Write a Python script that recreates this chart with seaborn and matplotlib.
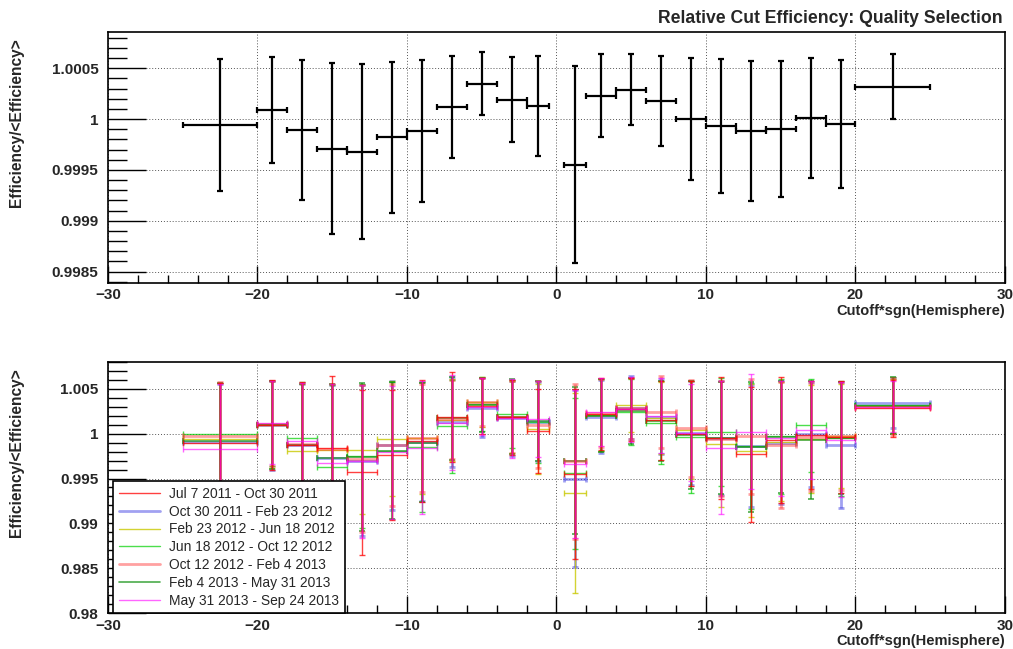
import numpy as np
import matplotlib
matplotlib.use("Agg")
import matplotlib.pyplot as plt
from matplotlib.ticker import MultipleLocator, FuncFormatter
from matplotlib.lines import Line2D
import seaborn as sns

# bins of cutoff*sgn(hemisphere)
bin_centers = [-22.5, -19, -17, -15, -13, -11, -9, -7, -5, -3, -1.25,
               1.25, 3, 5, 7, 9, 11, 13, 15, 17, 19, 22.5]
bin_halfwidths = [2.5, 1, 1, 1, 1, 1, 1, 1, 1, 1, 0.75,
                  0.75, 1, 1, 1, 1, 1, 1, 1, 1, 1, 2.5]

# top panel: all periods combined
top_val = [0.99994, 1.00009, 0.99989, 0.99971, 0.99968, 0.99982, 0.99988, 1.00012, 1.00035, 1.00019, 1.00013,
           0.99955, 1.00023, 1.00029, 1.00018, 1.00000, 0.99993, 0.99988, 0.99990, 1.00001, 0.99995, 1.00032]
top_err = [0.00065, 0.00052, 0.00069, 0.00084, 0.00086, 0.00074, 0.00070, 0.00050, 0.00031, 0.00042, 0.00049,
           0.00097, 0.00041, 0.00035, 0.00044, 0.00060, 0.00066, 0.00069, 0.00067, 0.00059, 0.00063, 0.00032]

# bottom panel: per period
periods = ["Jul 7 2011 - Oct 30 2011", "Oct 30 2011 - Feb 23 2012", "Feb 23 2012 - Jun 18 2012",
           "Jun 18 2012 - Oct 12 2012", "Oct 12 2012 - Feb 4 2013", "Feb 4 2013 - May 31 2013",
           "May 31 2013 - Sep 24 2013"]

val_jul7 = [0.9990, 1.0010, 0.9987, 0.9984, 0.9957, 0.9976, 0.9992, 1.0018, 1.0031, 1.0018, 1.0003,
            0.9955, 1.0022, 1.0027, 1.0015, 1.0000, 0.9995, 0.9977, 0.9993, 0.9998, 0.9996, 1.0028]
val_oct30 = [0.9991, 1.0009, 0.9987, 0.9973, 0.9970, 0.9987, 0.9991, 1.0013, 1.0029, 1.0017, 1.0013,
             0.9950, 1.0019, 1.0029, 1.0019, 1.0001, 0.9995, 0.9986, 0.9990, 0.9999, 0.9987, 1.0034]
val_feb23 = [0.9994, 1.0010, 0.9981, 0.9982, 0.9982, 0.9994, 0.9995, 1.0015, 1.0035, 1.0018, 1.0005,
             0.9934, 1.0021, 1.0032, 1.0017, 1.0004, 0.9988, 0.9981, 0.9991, 0.9994, 0.9997, 1.0031]
val_jun18 = [0.9999, 1.0011, 0.9995, 0.9963, 0.9975, 0.9981, 0.9985, 1.0008, 1.0033, 1.0022, 1.0013,
             0.9956, 1.0021, 1.0024, 1.0012, 0.9996, 1.0002, 0.9986, 0.9997, 1.0009, 0.9995, 1.0032]
val_oct12 = [0.9997, 1.0011, 0.9988, 0.9983, 0.9972, 0.9987, 0.9995, 1.0016, 1.0035, 1.0018, 1.0010,
             0.9969, 1.0023, 1.0028, 1.0024, 1.0006, 0.9994, 0.9997, 0.9987, 0.9996, 0.9997, 1.0030]
val_feb4 = [0.9992, 1.0010, 0.9987, 0.9973, 0.9974, 0.9981, 0.9990, 1.0017, 1.0032, 1.0019, 1.0014,
            0.9970, 1.0020, 1.0025, 1.0014, 0.9998, 0.9995, 0.9985, 0.9996, 0.9993, 0.9995, 1.0031]
val_may31 = [0.9983, 1.0012, 0.9992, 0.9967, 0.9969, 0.9979, 0.9984, 1.0012, 1.0030, 1.0017, 1.0016,
             0.9966, 1.0024, 1.0027, 1.0020, 1.0001, 0.9984, 1.0002, 0.9995, 1.0004, 0.9993, 1.0030]

err_jul7 = [0.0066, 0.0050, 0.0070, 0.0080, 0.0092, 0.0072, 0.0068, 0.0050, 0.0031, 0.0042, 0.0047,
            0.0095, 0.0040, 0.0035, 0.0044, 0.0058, 0.0068, 0.0075, 0.0070, 0.0060, 0.0062, 0.0032]
err_oct30 = [0.0064, 0.0049, 0.0068, 0.0081, 0.0084, 0.0072, 0.0066, 0.0050, 0.0033, 0.0042, 0.0044,
             0.0098, 0.0041, 0.0035, 0.0042, 0.0058, 0.0063, 0.0068, 0.0068, 0.0058, 0.0070, 0.0028]
err_feb23 = [0.0062, 0.0048, 0.0074, 0.0073, 0.0072, 0.0064, 0.0062, 0.0046, 0.0028, 0.0040, 0.0050,
             0.0111, 0.0040, 0.0030, 0.0040, 0.0054, 0.0070, 0.0074, 0.0066, 0.0060, 0.0058, 0.0030]
err_jun18 = [0.0057, 0.0047, 0.0062, 0.0091, 0.0080, 0.0076, 0.0072, 0.0052, 0.0030, 0.0038, 0.0046,
             0.0084, 0.0040, 0.0037, 0.0046, 0.0062, 0.0060, 0.0070, 0.0064, 0.0052, 0.0064, 0.0031]
err_oct12 = [0.0060, 0.0047, 0.0068, 0.0072, 0.0082, 0.0068, 0.0060, 0.0044, 0.0027, 0.0040, 0.0048,
             0.0086, 0.0038, 0.0034, 0.0040, 0.0054, 0.0064, 0.0064, 0.0070, 0.0060, 0.0060, 0.0032]
err_feb4 = [0.0064, 0.0049, 0.0068, 0.0082, 0.0082, 0.0076, 0.0066, 0.0046, 0.0030, 0.0042, 0.0044,
            0.0082, 0.0041, 0.0037, 0.0044, 0.0060, 0.0062, 0.0072, 0.0062, 0.0066, 0.0062, 0.0032]
err_may31 = [0.0072, 0.0046, 0.0064, 0.0088, 0.0085, 0.0074, 0.0074, 0.0053, 0.0032, 0.0044, 0.0042,
             0.0082, 0.0038, 0.0036, 0.0042, 0.0054, 0.0074, 0.0064, 0.0064, 0.0054, 0.0064, 0.0028]

period_vals = [val_jul7, val_oct30, val_feb23, val_jun18, val_oct12, val_feb4, val_may31]
period_errs = [err_jul7, err_oct30, err_feb23, err_jun18, err_oct12, err_feb4, err_may31]
period_colors = ["#ff0000", "#3030e0", "#c8c800", "#00d000", "#ff3030", "#109010", "#ff00ff"]
period_alpha = [0.75, 0.45, 0.8, 0.7, 0.45, 0.75, 0.6]
period_lw = [1.0, 2.0, 1.0, 1.0, 2.0, 1.2, 1.0]
period_z = [3.6, 3.0, 3.1, 3.2, 3.4, 3.3, 3.7]

sns.set_theme(style="white")
plt.rcParams['font.family'] = ['Liberation Sans', 'DejaVu Sans']

fig = plt.figure(figsize=(10.13, 6.49), dpi=100)
ax1 = fig.add_axes([0.1066, 0.5644, 0.8855, 0.3868])
ax2 = fig.add_axes([0.1066, 0.0550, 0.8855, 0.3877])

fmt = FuncFormatter(lambda v, p: "{:g}".format(round(v, 6)).replace("-", "\u2212"))


def style_axis(ax, ymin, ymax, ymajor, yminor, xlabelpad):
    ax.set_xlim(-30, 30)
    ax.set_ylim(ymin, ymax)
    ax.xaxis.set_major_locator(MultipleLocator(10))
    ax.xaxis.set_minor_locator(MultipleLocator(2))
    ax.yaxis.set_major_locator(MultipleLocator(ymajor))
    ax.yaxis.set_minor_locator(MultipleLocator(yminor))
    ax.yaxis.set_major_formatter(fmt)
    ax.xaxis.set_major_formatter(fmt)
    ax.tick_params(axis="y", which="major", direction="in", length=27, width=1, color="black",
                   left=True, right=False, labelsize=11, pad=7)
    ax.tick_params(axis="y", which="minor", direction="in", length=14, width=1, color="black",
                   left=True, right=False)
    ax.tick_params(axis="x", which="major", direction="in", length=12, width=1, color="black",
                   bottom=True, top=False, labelsize=11, pad=4)
    ax.tick_params(axis="x", which="minor", direction="in", length=6, width=1, color="black",
                   bottom=True, top=False)
    for lab in ax.get_xticklabels() + ax.get_yticklabels():
        lab.set_fontweight("bold")
    for sp in ax.spines.values():
        sp.set_color("black")
        sp.set_linewidth(1.2)
    ax.grid(True, which="major", color="#555555", linestyle=(0, (1, 2)), linewidth=0.7)
    ax.set_axisbelow(True)
    ax.set_ylabel("Efficiency/<Efficiency>", loc="top", fontsize=11.2, fontweight="bold")
    ax.yaxis.set_label_coords(-0.0936, 0.975)
    ax.set_xlabel("Cutoff*sgn(Hemisphere)", loc="right", fontsize=10.5, fontweight="bold",
                  labelpad=xlabelpad)


# top panel
ax1.errorbar(bin_centers, top_val, xerr=bin_halfwidths, yerr=top_err, fmt="none",
             ecolor="black", elinewidth=1.6, capsize=2.2, capthick=1.6, zorder=3)
style_axis(ax1, 0.99839, 1.00086, 0.0005, 0.0001, 1)

# bottom panel
handles = []
for name, vals, errs, col, al, lw, z in zip(periods, period_vals, period_errs,
                                            period_colors, period_alpha, period_lw, period_z):
    ax2.errorbar(bin_centers, vals, xerr=bin_halfwidths, yerr=errs, fmt="none",
                 ecolor=col, alpha=al, elinewidth=lw, capsize=2.2, capthick=lw, zorder=z)
    handles.append(Line2D([0], [0], color=col, alpha=al, lw=lw, label=name))
style_axis(ax2, 0.98, 1.008, 0.005, 0.001, 0.5)

leg = ax2.legend(handles=handles, loc="lower left", bbox_to_anchor=(0.0056, 0.0), borderaxespad=0,
                 fontsize=9.9, frameon=True, fancybox=False, framealpha=1, edgecolor="black",
                 handlelength=3.0, labelspacing=0.28, borderpad=0.4, handletextpad=0.7)
leg.get_frame().set_linewidth(1.2)
leg.set_zorder(10)

fig.text(0.990, 0.972, "Relative Cut Efficiency: Quality Selection", ha="right", va="center",
         fontsize=12.7, fontweight="bold")

fig.savefig("out.png", dpi=100)
